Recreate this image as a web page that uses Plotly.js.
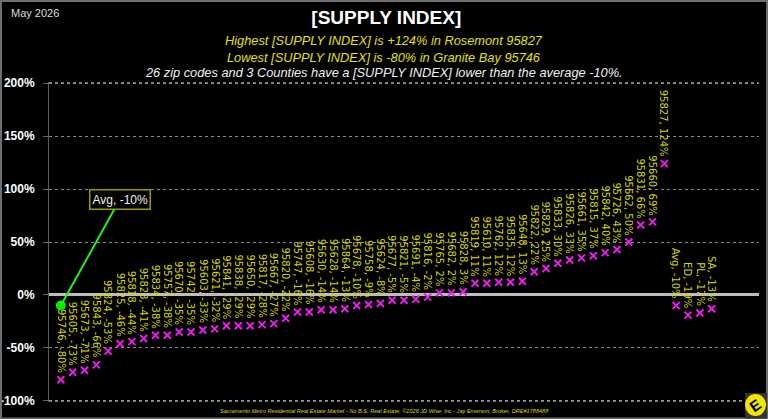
<!DOCTYPE html>
<html>
<head>
<meta charset="utf-8">
<script src="https://cdn.plot.ly/plotly-3.0.1.min.js"></script>
<style>html,body{margin:0;padding:0;background:#000;}#chart{width:768px;height:419px;}</style>
</head>
<body>
<div id="chart"></div>
<script>
// ---- data ----
const categories = ["95746","95605","95673","95843","95824","95825","95818","95823","95834","95757",
  "95670","95742","95603","95621","95841","95838","95650","95817","95667","95820",
  "95747","95608","95630","95628","95864","95678","95758","95624","95677","95821",
  "95691","95816","95765","95682","95828","95819","95610","95762","95835","95648",
  "95822","95829","95833","95826","95661","95815","95842","95726","95662","95831",
  "95660","95827","Avg","ED","PL","SA"];
const supplyIndex = [-80,-73,-71,-66,-53,-46,-44,-41,-38,-38,
  -35,-35,-33,-32,-29,-29,-29,-28,-27,-22,
  -16,-16,-14,-14,-13,-10,-9,-8,-5,-5,
  -4,-2,2,2,3,11,11,12,12,13,
  22,25,30,33,35,37,40,43,50,66,
  69,124,-10,-19,-17,-13];
const averageValue = -10;
const yTickValues = [-100,-50,0,50,100,150,200];
const yTickLabels = ["-100%","-50%","0%","50%","100%","150%","200%"];

const pointLabels = categories.map((c,i)=> c + ", " + supplyIndex[i] + "%");

const traces = [
  {
    type:'scatter', mode:'markers', x:categories, y:supplyIndex,
    marker:{symbol:'x-thin', size:7, color:'#e81ee8', line:{width:2, color:'#e81ee8'}},
    hoverinfo:'skip', showlegend:false
  },
  {
    type:'scatter', mode:'markers', x:[categories[0]], y:[averageValue],
    marker:{symbol:'circle', size:10, color:'#00ee00'},
    hoverinfo:'skip', showlegend:false
  }
];

// category axis: annotations positioned by category index
const annotations = pointLabels.map((t,i)=>({
  x:i, y:supplyIndex[i], xref:'x', yref:'y',
  text:t, textangle:90, showarrow:false,
  xanchor:'center', yanchor:'bottom', yshift:5,
  font:{family:'DejaVu Sans', size:10, color:'#d6d600'}
}));

annotations.push({
  x:0, y:averageValue, xref:'x', yref:'y',
  text:'Avg, ' + averageValue + '%', showarrow:true, arrowhead:0, arrowwidth:2, arrowcolor:'#22ee22',
  ax:59, ay:-106, bgcolor:'#000', bordercolor:'#9a9a00', borderwidth:1.5, borderpad:2,
  font:{family:'Liberation Sans', size:12, color:'#f0f0f0'}
});

const txt = (text, x, y, size, color, extra) => Object.assign({
  text, x, y, xref:'paper', yref:'paper', showarrow:false, yanchor:'middle',
  font:{family:'Liberation Sans, Arial', size, color}
}, extra||{});

annotations.push(txt('May 2026', -0.0563, 1.2156, 11, '#dddddd', {xanchor:'left'}));
annotations.push(txt('<i>Highest [SUPPLY INDEX] is +124% in Rosemont 95827</i>', 0.472, 1.131, 12.8, '#e2e200'));
annotations.push(txt('<i>Lowest [SUPPLY INDEX] is -80% in Granite Bay 95746</i>', 0.472, 1.078, 12.8, '#e2e200'));
annotations.push(txt('<i>26 zip codes and 3 Counties have a [SUPPLY INDEX] lower than the average -10%.</i>', 0.472, 1.03, 12.8, '#f0f0f0'));
annotations.push(txt('<i>Sacramento Metro Residential Real Estate Market - No B.S. Real Estate, ©2026 JD Wise, Inc - Jay Emerson, Broker, DRE#1788488</i>', 0.473, -0.028, 5.6, '#d8d800'));
annotations.push(txt('<b>E</b>', 0.9944, -0.0094, 15, '#000000', {textangle:-35, xanchor:'center'}));

const edgeGrid = [yTickValues[0], yTickValues[yTickValues.length-1]].map(v => ({
  type:'line', xref:'paper', yref:'y', x0:0, x1:1, y0:v, y1:v,
  line:{color:'#9a9a9a', width:1.5, dash:'dot'}, layer:'above'
}));

const shapes = edgeGrid.concat([
  // outer frame
  {type:'rect', xref:'paper', yref:'paper', x0:-0.0676, x1:1.0113, y0:-0.0516, y1:1.2531,
   line:{color:'#6e6e6e', width:2}},
  // logo
  {type:'rect', xref:'paper', yref:'paper', x0:0.9803, x1:1.0113, y0:-0.0516, y1:0.0281,
   fillcolor:'#333333', line:{width:0}},
  {type:'circle', xref:'paper', yref:'paper', x0:0.9803, x1:1.0099, y0:-0.0437, y1:0.0250,
   fillcolor:'#f2e600', line:{width:0}}
]);

const layout = {
  width:768, height:419,
  paper_bgcolor:'#000', plot_bgcolor:'#000',
  margin:{l:49, r:9, t:82, b:17},
  title:{text:'<b>[SUPPLY INDEX]</b>', x:0.503, xref:'container', y:0.958, yref:'container',
         xanchor:'center', yanchor:'middle',
         font:{family:'Liberation Sans, Arial', size:19, color:'#ffffff'}},
  xaxis:{type:'category', categoryorder:'array', categoryarray:categories,
         range:[-1,59], showticklabels:false, showgrid:false, zeroline:false,
         showline:false, ticks:'', fixedrange:true},
  yaxis:{range:[-101,201], tickvals:yTickValues, ticktext:yTickLabels,
         showgrid:true, gridcolor:'#8a8a8a', griddash:'dot', gridwidth:1,
         zeroline:true, zerolinecolor:'#bdbdbd', zerolinewidth:3,
         showline:true, linecolor:'#5a5a5a', linewidth:1,
         ticks:'outside', ticklen:5, tickcolor:'#666666', ticklabelstandoff:6,
         tickfont:{family:'Liberation Sans, Arial', size:12, color:'#ffffff', weight:'bold'},
         fixedrange:true},
  annotations, shapes,
  showlegend:false
};

Plotly.newPlot('chart', traces, layout, {staticPlot:true, displayModeBar:false});
</script>
</body>
</html>
